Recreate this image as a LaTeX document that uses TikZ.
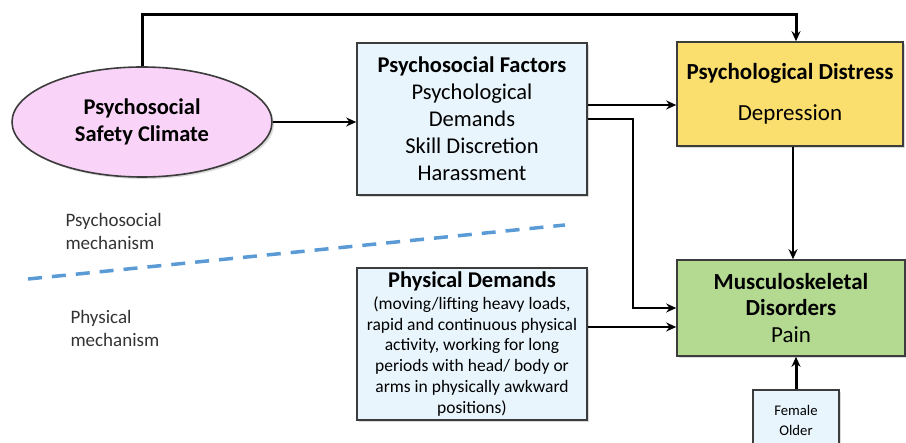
\documentclass[tikz,border=0pt]{standalone}
\usepackage{fontspec}
\setmainfont{Carlito}
\usetikzlibrary{shapes.geometric,shadows,arrows.meta}
\definecolor{climatepink}{RGB}{250,212,248}
\definecolor{factorblue}{RGB}{232,245,253}
\definecolor{distressyellow}{RGB}{250,222,110}
\definecolor{msdgreen}{RGB}{180,218,146}
\definecolor{borderdark}{RGB}{60,60,60}
\definecolor{dashblue}{RGB}{91,155,213}
\tikzset{
  box/.style={draw=borderdark,line width=1.6pt,align=center,inner sep=0pt,
    drop shadow={opacity=0.3,shadow xshift=2pt,shadow yshift=-2pt}},
  link/.style={line width=2.5pt,-{Stealth[length=10pt,width=9pt]}},
  mech/.style={anchor=west,align=left,text=black!80,font=\fontsize{19}{23}\selectfont}
}
\begin{document}
\begin{tikzpicture}[x=1pt,y=-1pt]
		\useasboundingbox (0,0) rectangle (906,443);
		\node[box,ellipse,fill=climatepink,minimum width=260pt,minimum height=110pt,font=\bfseries\fontsize{22.5}{27}\selectfont] (climate) at (142,122) {Psychosocial\\Safety Climate};
		\node[box,fill=factorblue,minimum width=230pt,minimum height=152pt,font=\fontsize{22.5}{27}\selectfont] (factors) at (472,119) {\textbf{Psychosocial Factors}\\Psychological\\Demands\\Skill Discretion\\Harassment};
		\node[box,fill=distressyellow,minimum width=226pt,minimum height=104pt,font=\fontsize{23}{27}\selectfont] (distress) at (790,94) {\textbf{Psychological Distress}\\[14pt]Depression};
		\node[box,fill=msdgreen,minimum width=228pt,minimum height=96pt,font=\fontsize{23}{26.5}\selectfont] (msd) at (791,308) {\textbf{Musculoskeletal}\\\textbf{Disorders}\\Pain};
		\node[box,fill=factorblue,minimum width=230pt,minimum height=152pt,font=\fontsize{17.5}{20.8}\selectfont] (physical) at (472,344) {{\bfseries\fontsize{22.5}{22}\selectfont Physical Demands}\\[1pt](moving/lifting heavy loads,\\rapid and continuous physical\\activity, working for long\\periods with head/ body or\\arms in physically awkward\\positions)};
		\node[box,fill=factorblue,minimum width=86pt,minimum height=60pt,font=\fontsize{14.7}{20}\selectfont] (demog) at (796,420) {Female\\Older};
		\node[mech] (psylabel) at (62,231) {Psychosocial\\mechanism};
		\node[mech] (phylabel) at (67,328) {Physical\\mechanism};
		\coordinate (split1) at (28,279);
		\coordinate (split2) at (565,225);
		\draw[dashblue,line width=3.5pt,dash pattern=on 14pt off 10pt] (split1) -- (split2);
		\coordinate (fdout) at ([yshift=14pt]factors.east);
		\coordinate (pmout) at ([yshift=17pt]physical.east);
		\coordinate (dmout) at ([xshift=3pt]distress.south);
		\draw[link,line width=3pt] (climate.north) -- ++(0,-52) -| ([xshift=6pt]distress.north);
		\draw[link] (climate.east) -- (climate.east -| factors.west);
		\draw[link] (fdout) -- (fdout -| distress.west);
		\draw[link] (factors.east) -- ++(45,0) |- (msd.west);
		\draw[link] (pmout) -- (pmout -| msd.west);
		\draw[link] (dmout) -- (dmout |- msd.north);
		\draw[link,line width=3pt] (demog.north) -- (demog.north |- msd.south);
\end{tikzpicture}
\end{document}
